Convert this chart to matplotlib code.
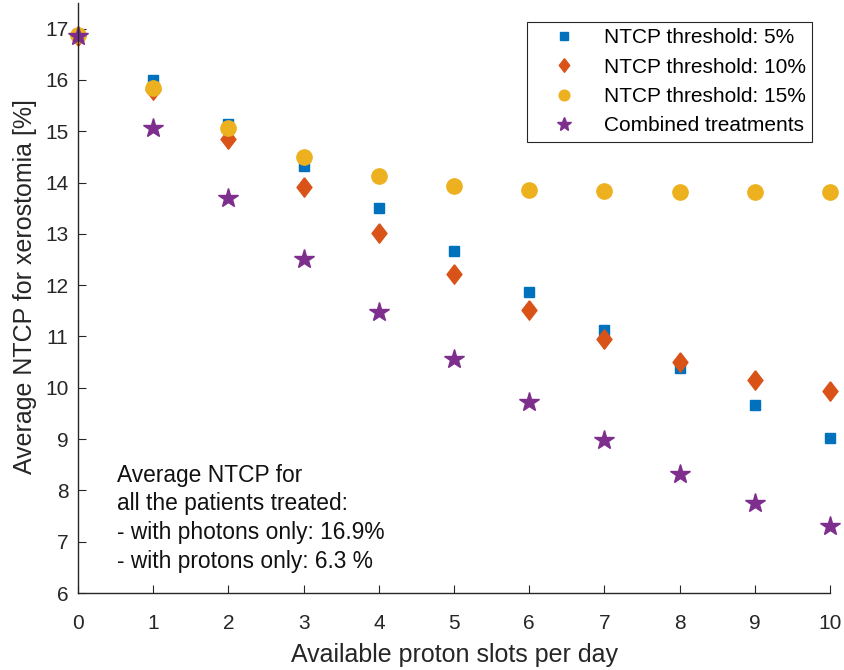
import matplotlib
matplotlib.use("Agg")
import matplotlib.pyplot as plt

slots = [0, 1, 2, 3, 4, 5, 6, 7, 8, 9, 10]
thr5 = [16.90, 16.00, 15.15, 14.33, 13.50, 12.66, 11.87, 11.12, 10.38, 9.67, 9.03]
thr10 = [16.85, 15.80, 14.85, 13.92, 13.02, 12.21, 11.52, 10.96, 10.51, 10.16, 9.94]
thr15 = [16.87, 15.85, 15.07, 14.50, 14.12, 13.93, 13.85, 13.83, 13.82, 13.82, 13.82]
combined = [16.85, 15.07, 13.70, 12.52, 11.48, 10.56, 9.72, 8.99, 8.32, 7.76, 7.31]

labels = ["NTCP threshold: 5%", "NTCP threshold: 10%", "NTCP threshold: 15%", "Combined treatments"]
note = ("Average NTCP for\nall the patients treated:\n"
        "- with photons only: 16.9%\n- with protons only: 6.3 %")

plt.rcParams['font.family'] = ['Liberation Sans', 'DejaVu Sans']
fig = plt.figure(figsize=(8.45, 6.7), dpi=100)
ax = fig.add_axes([0.0923, 0.1149, 0.890, 0.8806])

c = ['#0072BD', '#D95319', '#EDB120', '#7E2F8E']
diamond = [(0, 1), (0.77, 0), (0, -1), (-0.77, 0), (0, 1)]
ax.plot(slots, thr5, 's', color=c[0], markersize=7.8, label=labels[0], linestyle='none', clip_on=False)
ax.plot(slots, thr10, marker=diamond, color=c[1], markersize=14, label=labels[1], linestyle='none', clip_on=False)
ax.plot(slots, thr15, 'o', color=c[2], markersize=11, label=labels[2], linestyle='none', clip_on=False)
ax.plot(slots, combined, '*', color=c[3], markersize=15, label=labels[3], linestyle='none', clip_on=False)

ax.set_xlim(0, 10)
ax.set_ylim(6, 17.5)
ax.set_xticks(range(0, 11))
ax.set_yticks(range(6, 18))
for s in ['top', 'right']:
    ax.spines[s].set_visible(False)
for s in ['left', 'bottom']:
    ax.spines[s].set_color('#262626')
    ax.spines[s].set_linewidth(1.0)
ax.tick_params(direction='in', length=5.5, colors='#262626', labelsize=15)
ax.tick_params(axis='x', pad=15)
ax.tick_params(axis='y', pad=7)
ax.set_xlabel("Available proton slots per day", fontsize=18, color='#262626', labelpad=7)
ax.set_ylabel("Average NTCP for xerostomia [%]", fontsize=18, color='#262626')
ax.yaxis.set_label_coords(-0.054, 0.52)

leg = ax.legend(loc='upper right', bbox_to_anchor=(0.976, 0.968), fontsize=15,
                markerscale=0.7, frameon=True, fancybox=False, framealpha=1,
                edgecolor='#262626', borderpad=0.3, labelspacing=0.5, handletextpad=0.4,
                handlelength=3.0, borderaxespad=0)
leg.get_frame().set_linewidth(0.8)

ax.text(0.52, 8.52, note, fontsize=16.4, va='top', ha='left', color='#111111',
        linespacing=1.32, clip_on=False)

fig.savefig("out.png", dpi=100)
